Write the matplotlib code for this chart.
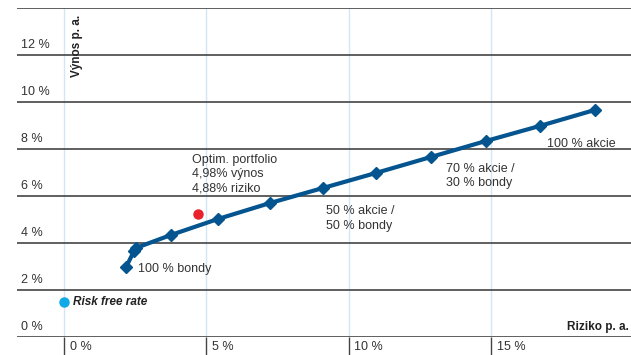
import matplotlib.pyplot as plt

# efficient frontier: risk (x, %) and return (y, %)
risk = [2.18, 2.46, 2.53, 3.75, 5.40, 7.23, 9.09, 10.95, 12.88, 14.81, 16.70, 18.63]
ret = [2.98, 3.66, 3.79, 4.34, 5.02, 5.70, 6.34, 6.98, 7.66, 8.34, 8.98, 9.66]

optim_risk, optim_ret = 4.70, 5.22
rf_risk, rf_ret = 0.0, 1.5

y_ticks = [0, 2, 4, 6, 8, 10, 12, 14]
x_ticks = [0, 5, 10, 15]

plt.rcParams['font.family'] = ['Liberation Sans', 'DejaVu Sans']

W, H = 631, 355
fig = plt.figure(figsize=(W / 100, H / 100), dpi=100)
ax = fig.add_axes([17 / W, 18 / H, 1.0, 329 / H])
ax.set_xlim(-1.65, 20.5)
ax.set_ylim(0, 14)
for s in ax.spines.values():
    s.set_visible(False)

grid_col = '#444444'
text_col = '#333333'

for x in x_ticks:
    ax.axvline(x, color='#d2e7f6', lw=1.0, zorder=1)
for y in y_ticks:
    ax.axhline(y, color=grid_col, lw=1.2, zorder=2)
    if y < 14:
        ax.annotate(f'{y} %', xy=(0, y), xycoords=('axes fraction', 'data'),
                    xytext=(3, 3), textcoords='offset points', ha='left', va='bottom',
                    fontsize=9, color=text_col)

ax.set_yticks([])
ax.set_xticks(x_ticks)
ax.set_xticklabels([])
ax.tick_params(axis='x', direction='out', length=13, width=1, color=grid_col)
for x in x_ticks:
    ax.annotate(f'{x} %', xy=(x, 0), xycoords=('data', 'axes fraction'),
                xytext=(4, -7), textcoords='offset points', ha='left', va='center',
                fontsize=9, color=text_col)

ax.plot(risk, ret, color='#03548f', lw=3.0, marker='D', markersize=6.5, zorder=4)
ax.plot(optim_risk, optim_ret, 'o', color='#e8212b', markersize=6.5, zorder=5)
ax.plot(rf_risk, rf_ret, 'o', color='#10a8e6', markersize=6.5, zorder=5, clip_on=False)

ax.text(0.46, 13.7, 'Výnos p. a.', rotation=90, fontsize=8.5, fontweight='bold',
        ha='center', va='top', color='#222222')
fig.text(629 / W, 22 / H, 'Riziko p. a.', fontsize=8.5, fontweight='bold',
         ha='right', va='bottom', color='#222222')
ax.text(0.32, rf_ret, 'Risk free rate', fontsize=8.5, fontweight='bold', style='italic',
        ha='left', va='center', color='#222222')

ax.text(4.5, 7.8, 'Optim. portfolio\n4,98% výnos\n4,88% riziko', fontsize=9,
        ha='left', va='top', color=text_col, linespacing=1.25)
ax.text(2.6, 2.9, '100 % bondy', fontsize=9, ha='left', va='center', color=text_col)
ax.text(9.2, 5.6, '50 % akcie /\n50 % bondy', fontsize=9, ha='left', va='top',
        color=text_col, linespacing=1.25)
ax.text(13.4, 7.4, '70 % akcie /\n30 % bondy', fontsize=9, ha='left', va='top',
        color=text_col, linespacing=1.25)
ax.text(16.95, 8.2, '100 % akcie', fontsize=9, ha='left', va='center', color=text_col)

fig.savefig('out.png', dpi=100)
